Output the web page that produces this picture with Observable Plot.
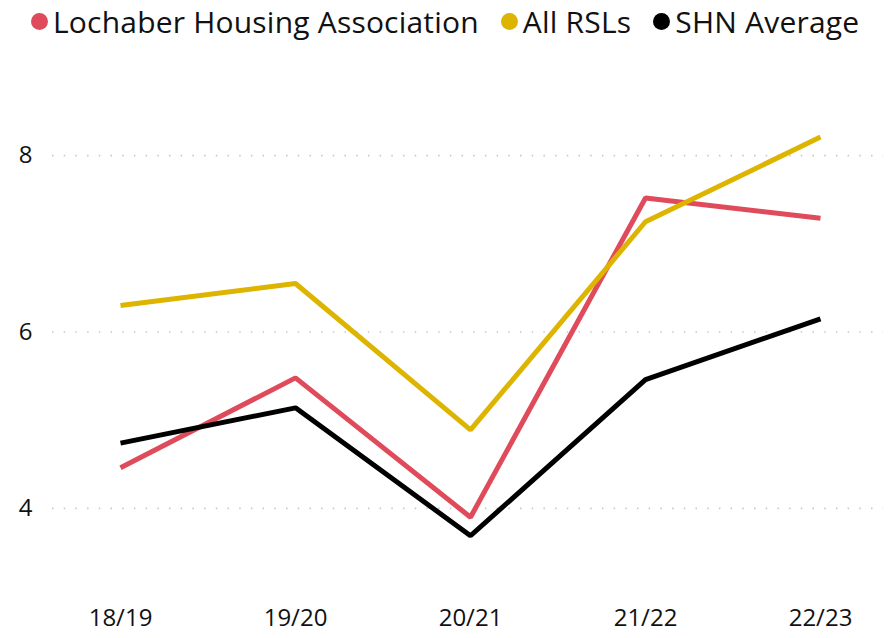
<!DOCTYPE html>
<html>
<head>
<meta charset="utf-8">
<script src="https://cdn.jsdelivr.net/npm/d3@7"></script>
<script src="https://cdn.jsdelivr.net/npm/@observablehq/plot@0.6"></script>
<style>
  html, body { margin: 0; padding: 0; background: #fff; }
  body { width: 894px; height: 638px; overflow: hidden; font-family: "Open Sans", "Noto Sans", sans-serif; }
  #legend { height: 42px; display: flex; align-items: center; padding-left: 31px; font-size: 30px; color: #111; white-space: nowrap; letter-spacing: 0.2px; }
  .item { display: flex; align-items: center; margin-right: 22px; }
  .dot { width: 17px; height: 17px; border-radius: 50%; margin-right: 5px; }
</style>
</head>
<body>
<div id="legend"></div>
<div id="chart"></div>
<script>
const years = ["18/19", "19/20", "20/21", "21/22", "22/23"];
const seriesNames = ["Lochaber Housing Association", "All RSLs", "SHN Average"];
const lochaber = [4.46, 5.48, 3.90, 7.52, 7.29];
const allRSLs = [6.30, 6.55, 4.89, 7.25, 8.21];
const shnAverage = [4.74, 5.14, 3.69, 5.46, 6.15];
const colors = ["#E04B5B", "#DDB500", "#000000"];
const yTicks = [4, 6, 8];

const seriesValues = [lochaber, allRSLs, shnAverage];
const data = seriesNames.flatMap((s, i) => years.map((y, j) => ({series: s, year: y, value: seriesValues[i][j]})));

const legend = document.getElementById("legend");
seriesNames.forEach((s, i) => {
  const it = document.createElement("div");
  it.className = "item";
  it.innerHTML = `<span class="dot" style="background:${colors[i]}"></span><span>${s}</span>`;
  legend.appendChild(it);
});

const plot = Plot.plot({
  width: 894,
  height: 596,
  marginLeft: 120,
  marginRight: 74,
  marginTop: 69,
  marginBottom: 86,
  style: {fontFamily: "'Open Sans', 'Noto Sans', sans-serif", fontSize: "24px", color: "#111", background: "#fff"},
  x: {type: "point", domain: years, padding: 0, label: null},
  y: {domain: [3.5, 8.5], label: null},
  color: {domain: seriesNames, range: colors},
  marks: [
    Plot.ruleY(yTicks, {stroke: "#c8c8c8", strokeWidth: 1.6, strokeDasharray: "1.5,10.2", insetLeft: -68, insetRight: -63}),
    Plot.axisY(yTicks, {tickSize: 0, tickPadding: 88, fontSize: 24, fill: "#111", tickFormat: d3.format("d"), label: null}),
    Plot.axisX({tickSize: 0, tickPadding: 56, fontSize: 24, fill: "#111", label: null}),
    Plot.line(data, {x: "year", y: "value", z: "series", stroke: "series", strokeWidth: 5, strokeLinejoin: "miter", strokeLinecap: "butt"})
  ]
});
document.getElementById("chart").appendChild(plot);
</script>
</body>
</html>
